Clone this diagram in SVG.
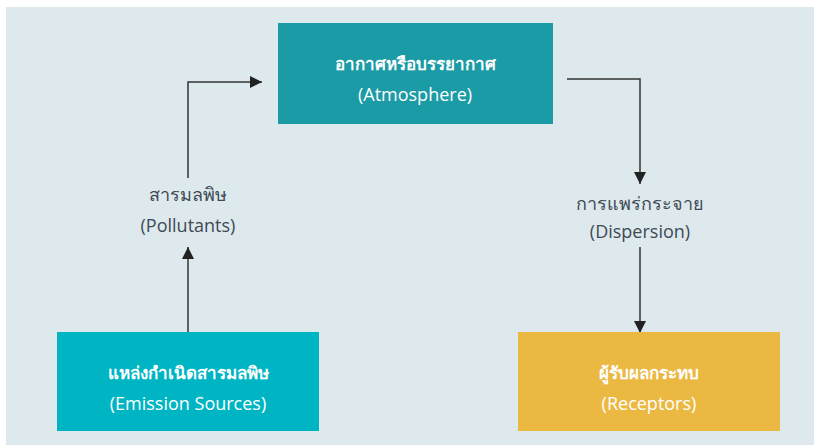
<svg xmlns="http://www.w3.org/2000/svg" width="814" height="445" viewBox="0 0 814 445">
<defs>
<marker id="ah" viewBox="0 0 10 10" refX="10" refY="5" markerWidth="12" markerHeight="12" markerUnits="userSpaceOnUse" orient="auto">
<path d="M0,0 L10,5 L0,10 z" fill="#222"/>
</marker>
<style>
.bt{font-family:"Open Sans","Noto Sans","DejaVu Sans",sans-serif;font-size:18px;fill:#ffffff;text-anchor:middle}
.th{font-size:17px;font-weight:600}
.lt{font-family:"Open Sans","Noto Sans","DejaVu Sans",sans-serif;font-size:18px;fill:#3f4a55;text-anchor:middle}
.cn{fill:none;stroke:#333;stroke-width:1.5}
</style>
</defs>
<rect x="0" y="0" width="814" height="445" fill="#ffffff"/>
<rect x="6" y="7" width="808" height="438" fill="#dde9ed"/>
<g id="connectors">
<polyline class="cn" points="188,178 188,82 262,82" marker-end="url(#ah)"/>
<line class="cn" x1="188" y1="332" x2="188" y2="247" marker-end="url(#ah)"/>
<polyline class="cn" points="567,79 640,79 640,184" marker-end="url(#ah)"/>
<line class="cn" x1="640" y1="247" x2="640" y2="333" marker-end="url(#ah)"/>
</g>
<g id="atmosphere">
<rect x="278" y="23" width="275" height="101" fill="#1a9ba5"/>
<text class="bt th" x="415" y="70">อากาศหรือบรรยากาศ</text>
<text class="bt" x="415" y="101">(Atmosphere)</text>
</g>
<g id="emission">
<rect x="57" y="332" width="262" height="99" fill="#00b5c3"/>
<text class="bt th" x="188" y="379">แหล่งกำเนิดสารมลพิษ</text>
<text class="bt" x="188" y="410">(Emission Sources)</text>
</g>
<g id="receptors">
<rect x="518" y="332" width="262" height="99" fill="#ebb842"/>
<text class="bt th" x="649" y="379">ผู้รับผลกระทบ</text>
<text class="bt" x="649" y="410">(Receptors)</text>
</g>
<g id="pollutants">
<text class="lt" x="188" y="201">สารมลพิษ</text>
<text class="lt" x="188" y="232">(Pollutants)</text>
</g>
<g id="dispersion">
<text class="lt" x="640" y="210">การแพร่กระจาย</text>
<text class="lt" x="640" y="238">(Dispersion)</text>
</g>
</svg>
